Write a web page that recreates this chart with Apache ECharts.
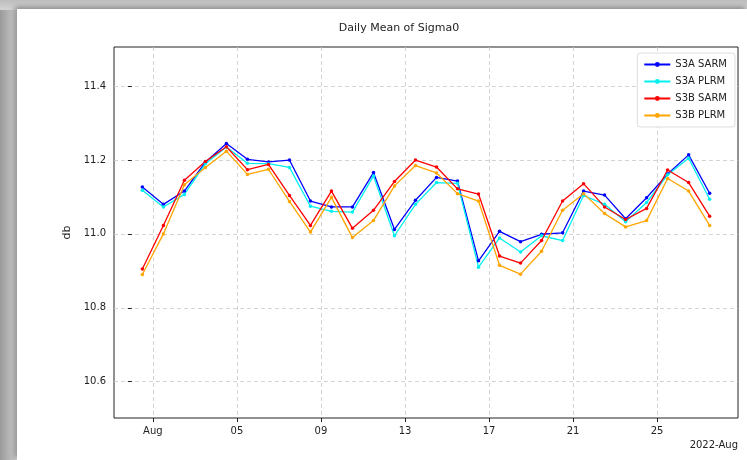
<!DOCTYPE html>
<html>
<head>
<meta charset="utf-8">
<script src="https://cdn.jsdelivr.net/npm/echarts@6/dist/echarts.min.js"></script>
<style>
  html, body { margin: 0; padding: 0; width: 747px; height: 460px; overflow: hidden;
    background: linear-gradient(90deg, #9a9a9a 0px, #c4c4c4 14px, #d8d8d8 17px); }
  #topband { position: absolute; left: 0; top: 0; width: 747px; height: 10px;
    background: linear-gradient(180deg, #bdbdbd 0px, #d2d2d2 9px); }
  #card { position: absolute; left: 17px; top: 9px; width: 730px; height: 451px; background: #fff;
    box-shadow: -2px -2px 5px rgba(0,0,0,0.35); }
  #chart { width: 730px; height: 451px; }
</style>
</head>
<body>
<div id="topband"></div>
<div id="card"><div id="chart"></div></div>
<script>
// ---- data ----
const dates = [
  '2022-07-31','2022-08-01','2022-08-02','2022-08-03','2022-08-04','2022-08-05','2022-08-06',
  '2022-08-07','2022-08-08','2022-08-09','2022-08-10','2022-08-11','2022-08-12','2022-08-13',
  '2022-08-14','2022-08-15','2022-08-16','2022-08-17','2022-08-18','2022-08-19','2022-08-20',
  '2022-08-21','2022-08-22','2022-08-23','2022-08-24','2022-08-25','2022-08-26','2022-08-27'
];
const s3aSarm = [11.127, 11.080, 11.116, 11.194, 11.245, 11.202, 11.195, 11.200, 11.089, 11.073,
  11.073, 11.166, 11.012, 11.091, 11.153, 11.143, 10.927, 11.007, 10.979, 10.999, 11.003,
  11.116, 11.105, 11.041, 11.098, 11.162, 11.214, 11.110];
const s3aPlrm = [11.118, 11.073, 11.107, 11.190, 11.235, 11.191, 11.190, 11.180, 11.075, 11.061,
  11.059, 11.157, 10.995, 11.080, 11.139, 11.137, 10.910, 10.989, 10.951, 10.995, 10.982,
  11.104, 11.080, 11.033, 11.085, 11.160, 11.205, 11.094];
const s3bSarm = [10.905, 11.023, 11.145, 11.196, 11.236, 11.174, 11.188, 11.104, 11.023, 11.116,
  11.015, 11.064, 11.142, 11.200, 11.181, 11.122, 11.108, 10.940, 10.921, 10.982, 11.089,
  11.136, 11.073, 11.039, 11.069, 11.173, 11.139, 11.048];
const s3bPlrm = [10.890, 11.000, 11.133, 11.180, 11.224, 11.161, 11.175, 11.088, 11.005, 11.099,
  10.990, 11.036, 11.130, 11.185, 11.165, 11.109, 11.089, 10.915, 10.891, 10.953, 11.064,
  11.109, 11.055, 11.019, 11.036, 11.150, 11.116, 11.023];
const seriesNames = ['S3A SARM', 'S3A PLRM', 'S3B SARM', 'S3B PLRM'];
const xTickDates = ['2022-08-01','2022-08-05','2022-08-09','2022-08-13','2022-08-17','2022-08-21','2022-08-25'];
const xTickLabels = ['Aug','05','09','13','17','21','25'];
const yTicks = [10.6, 10.8, 11.0, 11.2, 11.4];

// ---- helpers ----
const DAY = 86400000;
const ref = Date.parse('2022-07-31T00:00:00Z');
function dayNum(d, hour) { return (Date.parse(d + 'T00:00:00Z') - ref) / DAY + (hour || 0) / 24; }
const xs = dates.map(d => dayNum(d, 12));
const xTickVals = xTickDates.map(d => dayNum(d, 0));
const labelMap = {};
xTickVals.forEach((v, i) => { labelMap[v.toFixed(3)] = xTickLabels[i]; });
const span = xs[xs.length - 1] - xs[0];
const xMin = xs[0] - span * 0.05, xMax = xs[xs.length - 1] + span * 0.05;

const colors = ['#0000ff', '#00f0f0', '#ff0000', '#ffa500'];
const allVals = [s3aSarm, s3aPlrm, s3bSarm, s3bPlrm];

const font = 'DejaVu Sans';
const chart = echarts.init(document.getElementById('chart'), null, { renderer: 'canvas' });
chart.setOption({
  animation: false,
  backgroundColor: '#fff',
  title: {
    text: 'Daily Mean of Sigma0', left: 377, top: 9, textAlign: 'center',
    textStyle: { fontFamily: font, fontSize: 11, fontWeight: 'normal', color: '#222' }
  },
  grid: { left: 97, top: 38, right: 9, bottom: 42, show: true, borderColor: '#222', borderWidth: 1, backgroundColor: 'transparent' },
  legend: {
    right: 12, top: 44, orient: 'vertical',
    data: seriesNames,
    itemWidth: 26, itemHeight: 6, itemGap: 6,
    padding: [6, 8, 6, 6],
    borderColor: '#ddd', borderWidth: 1, borderRadius: 3, backgroundColor: '#fff',
    textStyle: { fontFamily: font, fontSize: 10, color: '#222', lineHeight: 11 }
  },
  xAxis: {
    type: 'value', min: xMin, max: xMax,
    axisLine: { show: false },
    axisTick: { show: true, length: 4, inside: false, customValues: xTickVals, lineStyle: { color: '#222' } },
    axisLabel: {
      customValues: xTickVals, margin: 8,
      fontFamily: font, fontSize: 10, color: '#222',
      formatter: v => labelMap[Number(v).toFixed(3)] || ''
    },
    splitLine: { show: true, lineStyle: { color: '#c8c8c8', type: [4, 3], width: 0.8 } }
  },
  yAxis: {
    type: 'value', min: 10.5016, max: 11.506,
    name: 'db', nameLocation: 'middle', nameGap: 37, nameRotate: 90,
    nameTextStyle: { fontFamily: font, fontSize: 11, color: '#222' },
    axisLine: { show: false },
    axisTick: { show: true, length: 4, customValues: yTicks, lineStyle: { color: '#222' } },
    axisLabel: { customValues: yTicks, margin: 8, fontFamily: font, fontSize: 10, color: '#222',
      formatter: v => Number(v).toFixed(1) },
    splitLine: { show: true, lineStyle: { color: '#c8c8c8', type: [4, 3], width: 0.8 } }
  },
  graphic: [{
    type: 'text', right: 9, top: 431,
    style: { text: '2022-Aug', fontFamily: font, fontSize: 10, fill: '#222', textAlign: 'right' }
  }],
  series: seriesNames.map((name, k) => ({
    name, type: 'line',
    data: xs.map((x, i) => [x, allVals[k][i]]),
    symbol: 'circle', symbolSize: 3.5, showSymbol: true,
    lineStyle: { width: 1.3, color: colors[k] },
    itemStyle: { color: colors[k] },
    emphasis: { disabled: true }
  }))
});
</script>
</body>
</html>
